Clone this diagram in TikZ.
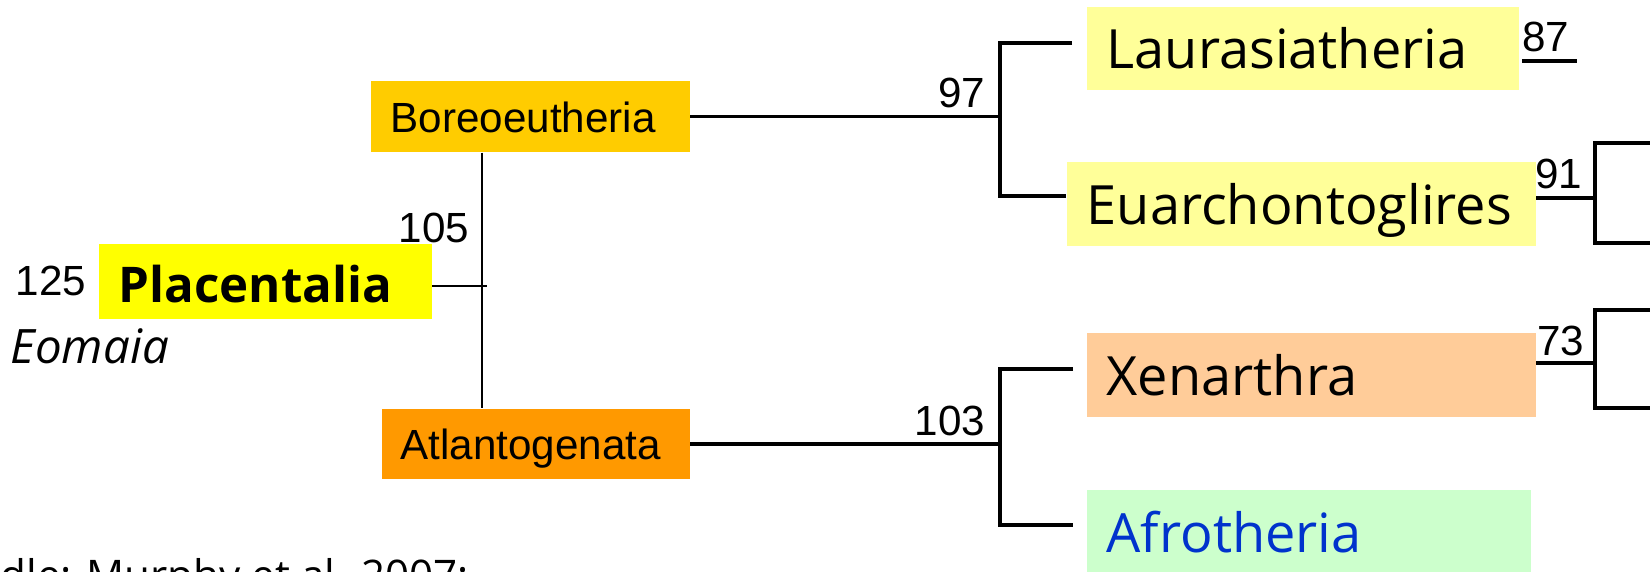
\documentclass[tikz,border=0pt]{standalone}
\usepackage{fontspec}
\setmainfont{Liberation Sans}
\newfontfamily\comic{Open Sans}
\usetikzlibrary{positioning}
\definecolor{lauraYellow}{HTML}{FFFF99}
\definecolor{xenPeach}{HTML}{FFCC99}
\definecolor{afroGreen}{HTML}{CCFFCC}
\definecolor{afroBlue}{HTML}{0033CC}
\definecolor{boreoGold}{HTML}{FFCC00}
\definecolor{atlOrange}{HTML}{FF9900}
\definecolor{placYellow}{HTML}{FFFF00}

\begin{document}
\begin{tikzpicture}[taxon/.style={anchor=west, inner xsep=0.2cm, inner ysep=0pt, minimum height=0.84cm, align=left, text height=0.41cm, text depth=0pt, font=\comic\fontsize{15.4}{17}\selectfont},
	clade/.style={anchor=west, inner xsep=0.2cm, inner ysep=0pt, align=left, text height=0.31cm, text depth=0pt, font=\fontsize{12}{14}\selectfont},
	num/.style={inner sep=0pt, anchor=base east, font=\fontsize{12}{14}\selectfont},
	tree/.style={line width=1pt}, twig/.style={line width=0.45pt}]
	\clip (0,0) rectangle (16.5,5.71);

	%Boksene
	\node[taxon, fill=lauraYellow, text width=3.92cm, minimum height=0.83cm] (laura) at (10.86,5.225) {Laurasiatheria};
	\node[taxon, fill=lauraYellow, text width=4.29cm] (euarch) at (10.66,3.67) {Euarchontoglires};
	\node[taxon, fill=xenPeach, text width=4.09cm] (xen) at (10.86,1.96) {Xenarthra};
	\node[taxon, fill=afroGreen, text=afroBlue, text width=4.04cm] (afro) at (10.86,0.39) {Afrotheria};
	\node[clade, fill=boreoGold, text width=2.79cm, minimum height=0.71cm] (boreo) at (3.70,4.545) {Boreoeutheria};
	\node[clade, fill=atlOrange, text width=2.70cm, inner xsep=0.19cm, minimum height=0.70cm] (atlanto) at (3.81,1.27) {Atlantogenata};
	\node[taxon, fill=placYellow, text width=2.93cm, minimum height=0.75cm, text height=0.42cm, font=\comic\bfseries\fontsize{14}{16}\selectfont] (placentalia) at (0.98,2.895) {Placentalia};

	%Tallene
	\node[num] (n97) at (9.86,4.64) {97};
	\node[num] (n103) at (9.86,1.36) {103};
	\node[num] (n105) at (4.70,3.29) {105};
	\node[num, anchor=base west] (n125) at (0.15,2.76) {125};
	\node[num] (n91) at (15.83,3.83) {91};
	\node[num] (n73) at (15.85,2.16) {73};
	\node[num] (n87) at (15.70,5.19) {87};
	\node[anchor=base west, inner sep=0pt, font=\comic\itshape\fontsize{13.5}{15}\selectfont] (eomaia) at (0.10,2.08) {Eomaia};
	\node[anchor=base west, inner sep=0pt, font=\comic\fontsize{12}{14}\selectfont] (kilde) at (0,-0.19) {dle: Murphy et al. 2007;};

	%Greinene
	\coordinate (root) at (4.82,2.85);
	\coordinate (b97) at (10.00,4.545);
	\coordinate (b103) at (10.00,1.27);
	\coordinate (b91) at (15.95,3.73);
	\coordinate (b73) at (15.95,2.08);
	\draw[twig] (root |- boreo.south) -- (root |- atlanto.north);
	\draw[twig] ([yshift=-0.045cm]placentalia.east) -- ([xshift=0.05cm]root);
	\draw[tree] (boreo.east) -- (b97);
	\draw[tree] (atlanto.east) -- (b103);
	\draw[tree] ([shift={(-0.14,0.055)}]laura.west) -| (b97) |- ([yshift=0.08cm]euarch.west);
	\draw[tree] ([shift={(-0.13,0.06)}]xen.west) -| (b103) |- ([shift={(-0.13,0.07)}]afro.west);
	\draw[tree] ([xshift=0.03cm]laura.east |- 0,5.10) -- (15.77,5.10);
	\draw[tree] (euarch.east |- b91) -- (b91);
	\draw[tree] (16.6,4.28) -| (b91) |- (16.6,3.28);
	\draw[tree] (xen.east |- b73) -- (b73);
	\draw[tree] (16.6,2.61) -| (b73) |- (16.6,1.63);
\end{tikzpicture}
\end{document}
